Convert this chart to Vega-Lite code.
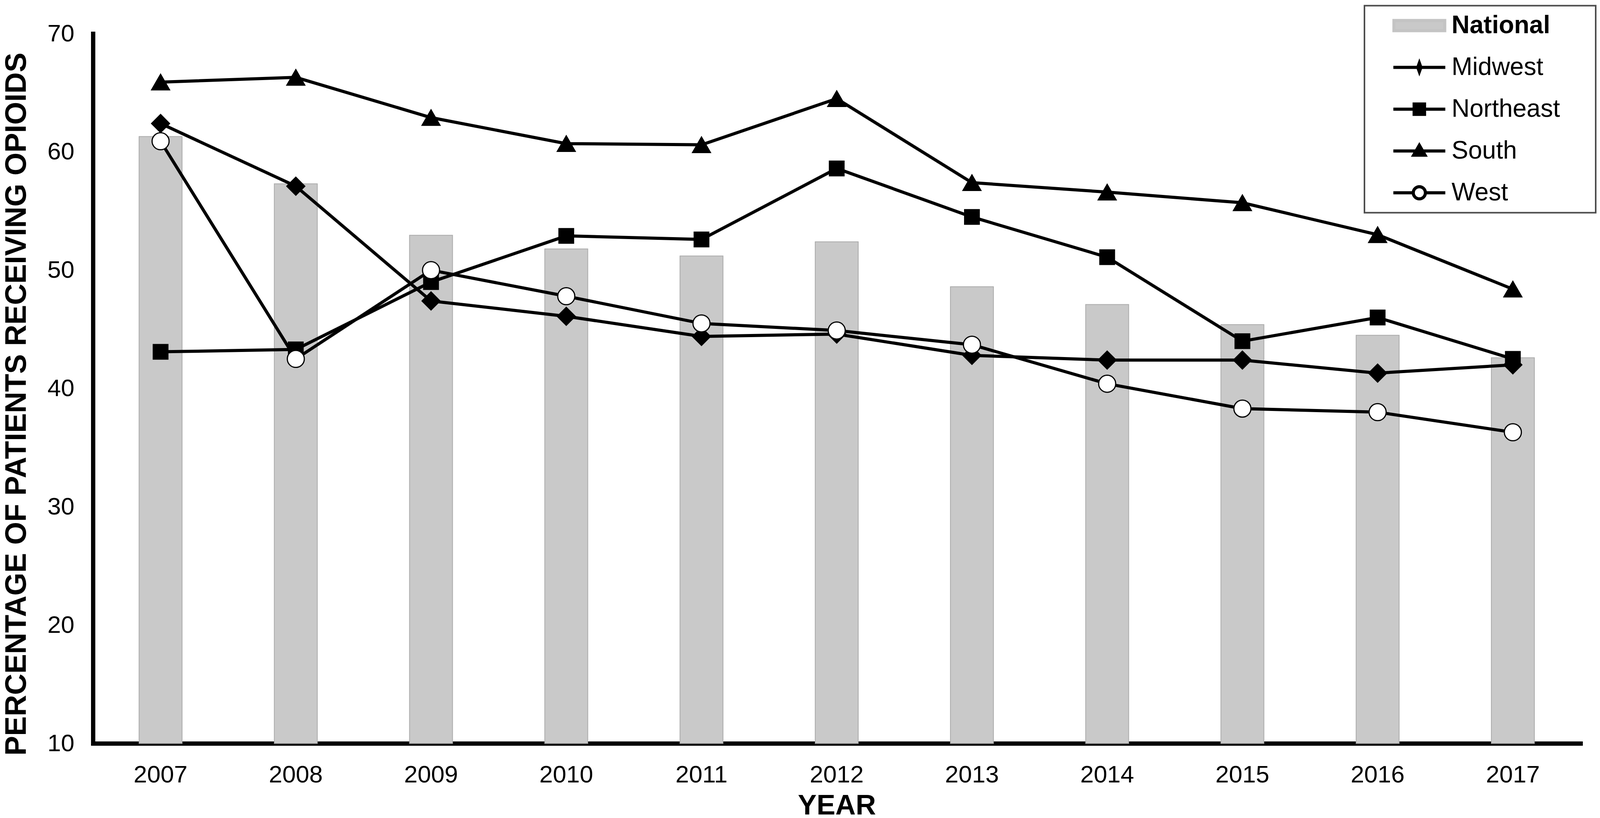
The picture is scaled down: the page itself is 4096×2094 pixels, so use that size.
{
  "$schema": "https://vega.github.io/schema/vega-lite/v6.json",
  "width": 3808,
  "height": 1817,
  "autosize": {"type": "none"},
  "padding": {"left": 238, "top": 86, "right": 50, "bottom": 191},
  "background": "white",
  "config": {"view": {"stroke": null}, "font": "Liberation Sans", "legend": {"strokeWidth": 4}},
  "datasets": {
    "d": [
      {"year": "2007", "series": "National", "value": 61.3},
      {"year": "2008", "series": "National", "value": 57.3},
      {"year": "2009", "series": "National", "value": 52.95},
      {"year": "2010", "series": "National", "value": 51.8},
      {"year": "2011", "series": "National", "value": 51.2},
      {"year": "2012", "series": "National", "value": 52.4},
      {"year": "2013", "series": "National", "value": 48.6},
      {"year": "2014", "series": "National", "value": 47.1},
      {"year": "2015", "series": "National", "value": 45.4},
      {"year": "2016", "series": "National", "value": 44.5},
      {"year": "2017", "series": "National", "value": 42.6},
      {"year": "2007", "series": "Midwest", "value": 62.4},
      {"year": "2008", "series": "Midwest", "value": 57.1},
      {"year": "2009", "series": "Midwest", "value": 47.4},
      {"year": "2010", "series": "Midwest", "value": 46.1},
      {"year": "2011", "series": "Midwest", "value": 44.4},
      {"year": "2012", "series": "Midwest", "value": 44.6},
      {"year": "2013", "series": "Midwest", "value": 42.8},
      {"year": "2014", "series": "Midwest", "value": 42.4},
      {"year": "2015", "series": "Midwest", "value": 42.4},
      {"year": "2016", "series": "Midwest", "value": 41.3},
      {"year": "2017", "series": "Midwest", "value": 42.0},
      {"year": "2007", "series": "Northeast", "value": 43.1},
      {"year": "2008", "series": "Northeast", "value": 43.3},
      {"year": "2009", "series": "Northeast", "value": 49.0},
      {"year": "2010", "series": "Northeast", "value": 52.9},
      {"year": "2011", "series": "Northeast", "value": 52.6},
      {"year": "2012", "series": "Northeast", "value": 58.6},
      {"year": "2013", "series": "Northeast", "value": 54.5},
      {"year": "2014", "series": "Northeast", "value": 51.1},
      {"year": "2015", "series": "Northeast", "value": 44.0},
      {"year": "2016", "series": "Northeast", "value": 46.0},
      {"year": "2017", "series": "Northeast", "value": 42.5},
      {"year": "2007", "series": "South", "value": 65.9},
      {"year": "2008", "series": "South", "value": 66.3},
      {"year": "2009", "series": "South", "value": 62.9},
      {"year": "2010", "series": "South", "value": 60.7},
      {"year": "2011", "series": "South", "value": 60.6},
      {"year": "2012", "series": "South", "value": 64.5},
      {"year": "2013", "series": "South", "value": 57.4},
      {"year": "2014", "series": "South", "value": 56.6},
      {"year": "2015", "series": "South", "value": 55.7},
      {"year": "2016", "series": "South", "value": 53.0},
      {"year": "2017", "series": "South", "value": 48.4},
      {"year": "2007", "series": "West", "value": 60.9},
      {"year": "2008", "series": "West", "value": 42.5},
      {"year": "2009", "series": "West", "value": 50.0},
      {"year": "2010", "series": "West", "value": 47.8},
      {"year": "2011", "series": "West", "value": 45.5},
      {"year": "2012", "series": "West", "value": 44.9},
      {"year": "2013", "series": "West", "value": 43.7},
      {"year": "2014", "series": "West", "value": 40.4},
      {"year": "2015", "series": "West", "value": 38.3},
      {"year": "2016", "series": "West", "value": 38.0},
      {"year": "2017", "series": "West", "value": 36.3}
    ]
  },
  "data": {"name": "d"},
  "encoding": {
    "x": {
      "field": "year",
      "type": "ordinal",
      "scale": {"type": "band", "paddingInner": 0, "paddingOuter": 0},
      "axis": {
        "title": "YEAR",
        "titleFont": "Liberation Sans",
        "titleFontSize": 72,
        "titleFontWeight": "bold",
        "titleColor": "black",
        "titleY": 124,
        "titleBaseline": "top",
        "labelFont": "Liberation Sans",
        "labelFontSize": 62,
        "labelColor": "black",
        "labelPadding": 50,
        "labelAngle": 0,
        "ticks": false,
        "grid": false,
        "domainColor": "black",
        "domainWidth": 11,
        "domainCap": "square"
      }
    }
  },
  "resolve": {"scale": {"shape": "independent", "fill": "independent", "stroke": "independent", "size": "independent"}},
  "layer": [
    {
      "transform": [{"filter": "datum.series === 'National'"}],
      "mark": {"type": "bar", "fill": "#c9c9c9", "stroke": "#ababab", "strokeWidth": 2, "width": {"band": 0.318}},
      "encoding": {
        "y": {
          "field": "value",
          "type": "quantitative",
          "scale": {"domain": [10, 70], "zero": false, "nice": false},
          "axis": {
            "title": "PERCENTAGE OF PATIENTS RECEIVING OPIOIDS",
            "titleFont": "Liberation Sans",
            "titleFontSize": 75.5,
            "titleFontWeight": "bold",
            "titleColor": "black",
            "titleAngle": 270,
            "titleX": -196,
            "titleY": 948,
            "titleBaseline": "middle",
            "titleAlign": "center",
            "values": [10, 20, 30, 40, 50, 60, 70],
            "labelFont": "Liberation Sans",
            "labelFontSize": 62,
            "labelColor": "black",
            "labelPadding": 48,
            "ticks": false,
            "grid": false,
            "domainColor": "black",
            "domainWidth": 11,
            "domainCap": "square"
          }
        },
        "y2": {"datum": 10}
      }
    },
    {
      "transform": [{"filter": "datum.series !== 'National'"}],
      "mark": {"type": "line", "stroke": "black", "strokeWidth": 8},
      "encoding": {
        "y": {"field": "value", "type": "quantitative"},
        "detail": {"field": "series", "type": "nominal"}
      }
    },
    {
      "transform": [{"filter": "datum.series !== 'National'"}],
      "mark": {"type": "point", "filled": true, "stroke": "black", "strokeWidth": 3, "opacity": 1},
      "encoding": {
        "y": {"field": "value", "type": "quantitative"},
        "shape": {
          "field": "series",
          "type": "nominal",
          "scale": {
            "type": "ordinal",
            "domain": ["Midwest", "Northeast", "South", "West"],
            "range": ["diamond", "square", "triangle-up", "circle"]
          },
          "legend": null
        },
        "fill": {
          "field": "series",
          "type": "nominal",
          "scale": {
            "type": "ordinal",
            "domain": ["Midwest", "Northeast", "South", "West"],
            "range": ["black", "black", "black", "white"]
          },
          "legend": null
        },
        "size": {
          "field": "series",
          "type": "nominal",
          "scale": {
            "type": "ordinal",
            "domain": ["Midwest", "Northeast", "South", "West"],
            "range": [2100, 1400, 2100, 1900]
          },
          "legend": null
        }
      }
    },
    {
      "transform": [{"filter": "datum.series === 'none'"}],
      "mark": {"type": "point", "filled": true, "strokeWidth": 8},
      "encoding": {
        "y": {"field": "value", "type": "quantitative"},
        "shape": {
          "field": "series",
          "type": "nominal",
          "scale": {
            "type": "ordinal",
            "domain": ["National", "Midwest", "Northeast", "South", "West"],
            "range": [
              "M14.84,0M-2.321,-0.464H2.321V0.464H-2.321Z",
              "M14.84,0M-2.375,0H2.375M0,-0.404L0.143,0L0,0.404L-0.143,0Z",
              "M14.84,0M-2.375,0H2.375M-0.475,-0.475H0.475V0.475H-0.475Z",
              "M14.84,0M-2.375,0H2.375M0,-0.523L0.523,0.38L-0.523,0.38Z",
              "M14.84,0M-2.375,0H-0.554M0.554,0H2.375M-0.554,0A0.554,0.554 0 1,0 0.554,0A0.554,0.554 0 1,0 -0.554,0Z"
            ]
          },
          "legend": {
            "orient": "none",
            "legendX": 3255,
            "legendY": -71.5,
            "title": null,
            "symbolSize": 3136,
            "symbolStrokeWidth": 8,
            "symbolOpacity": 1,
            "symbolOffset": 89.5,
            "labelFont": "Liberation Sans",
            "labelFontSize": 64,
            "labelFontWeight": {"expr": "datum.value === 'National' ? 'bold' : 'normal'"},
            "labelColor": "black",
            "labelOffset": 50.5,
            "labelLimit": 500,
            "padding": 19,
            "rowPadding": 43,
            "strokeColor": "#4d4d4d",
            "fillColor": "white"
          }
        },
        "fill": {
          "field": "series",
          "type": "nominal",
          "scale": {
            "type": "ordinal",
            "domain": ["National", "Midwest", "Northeast", "South", "West"],
            "range": ["#c9c9c9", "black", "black", "black", "white"]
          },
          "legend": {
            "orient": "none",
            "legendX": 3255,
            "legendY": -71.5,
            "title": null,
            "symbolSize": 3136,
            "symbolStrokeWidth": 8,
            "symbolOpacity": 1,
            "symbolOffset": 89.5,
            "labelFont": "Liberation Sans",
            "labelFontSize": 64,
            "labelFontWeight": {"expr": "datum.value === 'National' ? 'bold' : 'normal'"},
            "labelColor": "black",
            "labelOffset": 50.5,
            "labelLimit": 500,
            "padding": 19,
            "rowPadding": 43,
            "strokeColor": "#4d4d4d",
            "fillColor": "white"
          }
        },
        "stroke": {
          "field": "series",
          "type": "nominal",
          "scale": {
            "type": "ordinal",
            "domain": ["National", "Midwest", "Northeast", "South", "West"],
            "range": ["#c4c4c4", "black", "black", "black", "black"]
          },
          "legend": {
            "orient": "none",
            "legendX": 3255,
            "legendY": -71.5,
            "title": null,
            "symbolSize": 3136,
            "symbolStrokeWidth": 8,
            "symbolOpacity": 1,
            "symbolOffset": 89.5,
            "labelFont": "Liberation Sans",
            "labelFontSize": 64,
            "labelFontWeight": {"expr": "datum.value === 'National' ? 'bold' : 'normal'"},
            "labelColor": "black",
            "labelOffset": 50.5,
            "labelLimit": 500,
            "padding": 19,
            "rowPadding": 43,
            "strokeColor": "#4d4d4d",
            "fillColor": "white"
          }
        }
      }
    }
  ]
}
